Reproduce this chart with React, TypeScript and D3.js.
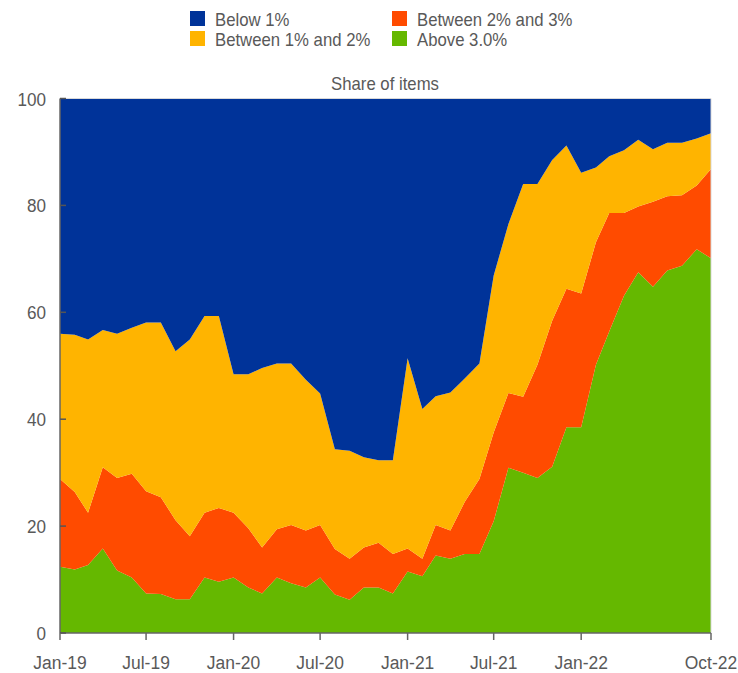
import React from "react";
import * as d3 from "d3";

const seriesNames = ["Above 3.0%", "Between 2% and 3%", "Between 1% and 2%", "Below 1%"];

const above3 = [12.4, 11.9, 12.7, 15.8, 11.7, 10.4, 7.4, 7.3, 6.3, 6.3, 10.4, 9.6,
  10.4, 8.5, 7.4, 10.4, 9.3, 8.5, 10.4, 7.2, 6.2, 8.5, 8.5, 7.4,
  11.5, 10.6, 14.5, 13.9, 14.8, 14.8, 20.9, 30.9, 30.0, 29.0, 31.1, 38.5,
  38.5, 50.2, 56.4, 63.1, 67.5, 64.8, 67.8, 68.7, 71.8, 70.1];

const between2and3 = [16.4, 14.5, 9.8, 15.2, 17.3, 19.4, 19.1, 18.1, 14.8, 11.8, 12.1, 13.8,
  12.1, 11.1, 8.6, 9.0, 10.9, 10.7, 9.8, 8.5, 7.7, 7.5, 8.4, 7.4,
  4.3, 3.3, 5.7, 5.3, 9.7, 14.0, 16.6, 14.0, 14.2, 21.2, 27.3, 25.9,
  25.0, 22.9, 22.2, 15.5, 12.3, 15.9, 13.9, 13.2, 11.9, 16.7];

const between1and2 = [27.2, 29.4, 32.4, 25.7, 27.0, 27.3, 31.6, 32.7, 31.6, 36.8, 36.8, 35.9,
  25.9, 28.8, 33.6, 31.0, 30.2, 28.2, 24.6, 18.7, 20.2, 16.9, 15.4, 17.5,
  35.6, 28.0, 24.1, 25.8, 23.1, 21.6, 29.4, 31.6, 39.8, 33.8, 30.1, 26.8,
  22.6, 14.0, 10.6, 11.7, 12.5, 9.8, 10.0, 9.8, 8.8, 6.7];

const below1 = [44.0, 44.2, 45.1, 43.3, 44.0, 42.9, 41.9, 41.9, 47.3, 45.1, 40.7, 40.7,
  51.6, 51.6, 50.4, 49.6, 49.6, 52.6, 55.2, 65.6, 65.9, 67.1, 67.7, 67.7,
  48.6, 58.1, 55.7, 55.0, 52.4, 49.6, 33.1, 23.5, 16.0, 16.0, 11.5, 8.8,
  13.9, 12.9, 10.8, 9.7, 7.7, 9.5, 8.3, 8.3, 7.5, 6.5];

const xTickLabels = ["Jan-19", "Jul-19", "Jan-20", "Jul-20", "Jan-21", "Jul-21", "Jan-22", "Oct-22"];
const xTickDates = [[2019, 0], [2019, 6], [2020, 0], [2020, 6], [2021, 0], [2021, 6], [2022, 0], [2022, 9]];
const yTicks = [0, 20, 40, 60, 80, 100];

const colors: Record<string, string> = {
  "Below 1%": "#003399",
  "Between 1% and 2%": "#FFB400",
  "Between 2% and 3%": "#FF4B00",
  "Above 3.0%": "#65B800",
};

const legendItems = [
  { name: "Below 1%", col: 0, row: 0 },
  { name: "Between 2% and 3%", col: 1, row: 0 },
  { name: "Between 1% and 2%", col: 0, row: 1 },
  { name: "Above 3.0%", col: 1, row: 1 },
];

const W = 738, H = 673;
const left = 60, right = 711, top = 98.5, bottom = 633;
const textColor = "#595959";
const font = "'Liberation Sans', Arial, sans-serif";

function SText({ x, y, anchor, size, sx, children }: any) {
  return (
    <g transform={`translate(${x},${y}) scale(${sx},1)`}>
      <text x={0} y={0} fontSize={size} fill={textColor} textAnchor={anchor || "start"}>{children}</text>
    </g>
  );
}

export default function App() {
  const dates = d3.timeMonth.range(new Date(2019, 0, 1), new Date(2022, 10, 1));
  const rows = dates.map((d, i) => ({
    date: d,
    "Above 3.0%": above3[i],
    "Between 2% and 3%": between2and3[i],
    "Between 1% and 2%": between1and2[i],
    "Below 1%": below1[i],
  }));
  const x = d3.scaleTime().domain([new Date(2019, 0, 1), new Date(2022, 9, 1)]).range([left, right]);
  const y = d3.scaleLinear().domain([0, 100]).range([bottom, top]);
  const stack = d3.stack<any>().keys(seriesNames);
  const layers = stack(rows as any);
  const area = d3.area<any>()
    .x((d) => x(d.data.date))
    .y0((d) => y(d[0]))
    .y1((d) => y(Math.min(100, d[1])))
    .curve(d3.curveLinear);

  return (
    <svg width={W} height={H} style={{ position: "absolute", left: 0, top: 0, fontFamily: font }}>
      <rect x={0} y={0} width={W} height={H} fill="#fff" />
      {legendItems.map((it) => {
        const lx = it.col === 0 ? 190 : 392;
        const ly = it.row === 0 ? 11 : 31;
        return (
          <g key={it.name}>
            <rect x={lx} y={ly} width={15} height={15} fill={colors[it.name]} />
            <SText x={lx + 25} y={ly + 15} size={18} sx={0.93}>{it.name}</SText>
          </g>
        );
      })}
      <SText x={385} y={90} size={18} sx={0.93} anchor="middle">Share of items</SText>
      {layers.map((layer) => (
        <path key={layer.key} d={area(layer as any) || ""} fill={colors[layer.key]} />
      ))}
      <line x1={left} x2={right} y1={top} y2={top} stroke="#d9d9d9" strokeWidth={1} />
      <line x1={right} x2={right} y1={top} y2={bottom} stroke="#d9d9d9" strokeWidth={1} />
      <line x1={left} x2={left} y1={top} y2={bottom} stroke="#666" strokeWidth={1.5} />
      <line x1={left} x2={right} y1={bottom} y2={bottom} stroke="#666" strokeWidth={1.5} />
      {yTicks.map((t) => (
        <g key={t}>
          <line x1={left} x2={left + 6} y1={y(t)} y2={y(t)} stroke="#555" strokeWidth={1.5} />
          <SText x={46} y={y(t) + 7} size={19} sx={0.9} anchor="end">{t}</SText>
        </g>
      ))}
      {xTickLabels.map((lab, i) => {
        const d = new Date(xTickDates[i][0], xTickDates[i][1], 1);
        const px = x(d);
        return (
          <g key={lab}>
            <line x1={px} x2={px} y1={bottom} y2={bottom + 7} stroke="#666" strokeWidth={1.5} />
            <SText x={px} y={669} size={19} sx={0.92} anchor="middle">{lab}</SText>
          </g>
        );
      })}
    </svg>
  );
}
